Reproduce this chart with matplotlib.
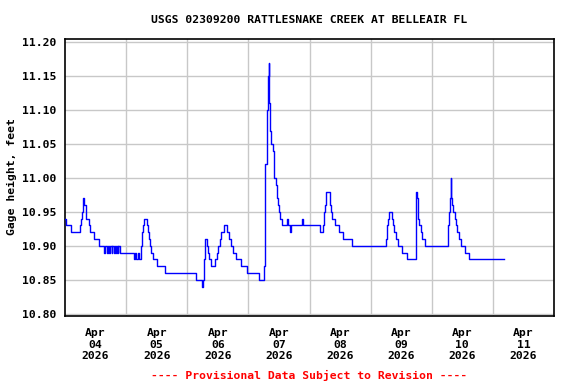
#!/usr/bin/env python3
"""
USGS gage height plot, Rattlesnake Creek at Belleair FL.
"""

import matplotlib
matplotlib.use('Agg')
import matplotlib.pyplot as plt
import matplotlib.dates as mdates
import numpy as np
import pandas as pd

# Step breakpoints: hours since 2026-04-04 00:00, gage height (ft)
hours = [
    0.0, 0.4, 2.5, 6.0, 6.3, 6.6, 6.9, 7.2, 7.6, 8.3, 9.4, 9.8, 11.5, 13.4, 15.4,
    15.9, 16.3, 16.8, 17.4, 17.8, 18.3, 18.6, 19.3, 19.6, 20.0, 20.3, 20.7, 21.0, 21.4,
    26.9, 27.6, 28.0, 28.8, 29.1, 29.7, 30.0, 30.3, 30.7, 31.1, 32.2, 32.5, 32.9, 33.3,
    33.8, 34.6, 36.0, 39.2,
    51.5, 53.8, 54.2, 54.4, 54.6, 54.9, 55.1, 55.7, 56.1, 56.5, 57.2, 58.8, 59.5, 60.2,
    60.7, 61.4, 62.3, 63.8, 64.4, 65.2, 66.1, 67.2, 69.3, 71.5, 76.1, 78.3,
    78.7, 79.4, 79.7, 80.1, 80.2, 80.6, 81.0, 81.5, 82.0, 82.2, 82.7, 83.1, 83.5, 83.9,
    84.5, 85.1, 87.1, 87.4, 88.3, 88.6, 93.0, 93.4,
    100.1, 101.4, 101.6, 101.9, 102.3, 102.6, 103.9, 104.5, 105.0, 106.1, 107.4, 109.2,
    112.5, 125.9, 126.3, 126.7, 127.1, 128.2, 128.7, 129.2, 130.0, 130.6, 132.2, 134.1,
    137.7, 138.0, 138.2, 138.5, 139.0, 139.7, 140.3, 141.2,
    150.3, 150.7, 151.1, 151.5, 151.7, 152.1, 152.5, 153.0, 153.7, 154.1, 154.6, 155.4,
    157.0, 158.6, 172.3,
]
gage_ft = [
    10.94, 10.93, 10.92, 10.93, 10.94, 10.95, 10.96, 10.97, 10.96, 10.94, 10.93, 10.92, 10.91, 10.90, 10.89,
    10.90, 10.89, 10.90, 10.89, 10.90, 10.89, 10.90, 10.89, 10.90, 10.89, 10.90, 10.89, 10.90, 10.89,
    10.88, 10.89, 10.88, 10.89, 10.88, 10.89, 10.90, 10.92, 10.93, 10.94, 10.93, 10.92, 10.91, 10.90,
    10.89, 10.88, 10.87, 10.86,
    10.85, 10.84, 10.85, 10.86, 10.88, 10.90, 10.91, 10.90, 10.89, 10.88, 10.87, 10.88, 10.89, 10.90,
    10.91, 10.92, 10.93, 10.92, 10.91, 10.90, 10.89, 10.88, 10.87, 10.86, 10.85, 10.87,
    11.02, 11.10, 11.15, 11.17, 11.11, 11.07, 11.05, 11.04, 11.02, 11.00, 10.99, 10.97, 10.96, 10.95,
    10.94, 10.93, 10.94, 10.93, 10.92, 10.93, 10.94, 10.93,
    10.92, 10.93, 10.95, 10.96, 10.97, 10.98, 10.96, 10.95, 10.94, 10.93, 10.92, 10.91,
    10.90, 10.91, 10.93, 10.94, 10.95, 10.94, 10.93, 10.92, 10.91, 10.90, 10.89, 10.88,
    10.93, 10.98, 10.97, 10.94, 10.93, 10.92, 10.91, 10.90,
    10.93, 10.95, 10.97, 11.00, 10.97, 10.96, 10.95, 10.94, 10.93, 10.92, 10.91, 10.90,
    10.89, 10.88, 10.88,
]
day_labels = ['Apr\n04\n2026', 'Apr\n05\n2026', 'Apr\n06\n2026', 'Apr\n07\n2026',
              'Apr\n08\n2026', 'Apr\n09\n2026', 'Apr\n10\n2026', 'Apr\n11\n2026']
y_ticks = [10.80, 10.85, 10.90, 10.95, 11.00, 11.05, 11.10, 11.15, 11.20]

start = pd.Timestamp('2026-04-04')
times = start + pd.to_timedelta(hours, unit='h')

mono = 'DejaVu Sans Mono'
fs = 8.2

fig = plt.figure(figsize=(5.76, 3.84), dpi=100)
ax = fig.add_axes([65 / 576, 68 / 384, 489 / 576, 277 / 384])

ax.plot(times, gage_ft, color='#0000ff', linewidth=1.0, drawstyle='steps-post', zorder=3)

ax.set_xlim(start, start + pd.Timedelta(days=8))
ax.set_ylim(10.7966, 11.2049)

# labels at noon, grid at midnight
noon = [start + pd.Timedelta(hours=12 + 24 * i) for i in range(8)]
midnight = [start + pd.Timedelta(days=i) for i in range(1, 8)]
ax.set_xticks(noon)
ax.set_xticklabels(day_labels, fontfamily=mono, fontweight='bold', fontsize=fs, linespacing=1.15)
ax.set_xticks(midnight, minor=True)
ax.set_yticks(y_ticks)
ax.set_yticklabels([f'{v:.2f}' for v in y_ticks], fontfamily=mono, fontweight='bold', fontsize=fs)

ax.tick_params(axis='both', which='both', length=0)
ax.tick_params(axis='x', pad=9)
ax.tick_params(axis='y', pad=6)
ax.grid(True, which='minor', axis='x', color='#c8c8c8', linewidth=1.0)
ax.grid(True, which='major', axis='y', color='#c8c8c8', linewidth=1.0)
ax.set_axisbelow(True)
for sp in ax.spines.values():
    sp.set_linewidth(1.2)
    sp.set_color('black')

fig.text(309 / 576, 1 - 20 / 384, 'USGS 02309200 RATTLESNAKE CREEK AT BELLEAIR FL',
         ha='center', va='center', fontfamily=mono, fontweight='bold', fontsize=fs)
fig.text(12 / 576, 1 - 177 / 384, 'Gage height, feet', rotation=90,
         ha='center', va='center', fontfamily=mono, fontweight='bold', fontsize=fs)
fig.text(309 / 576, 1 - 375 / 384, '---- Provisional Data Subject to Revision ----',
         ha='center', va='center', fontfamily=mono, fontweight='bold', fontsize=fs, color='red')

fig.savefig('out.png', dpi=100, facecolor='white')
